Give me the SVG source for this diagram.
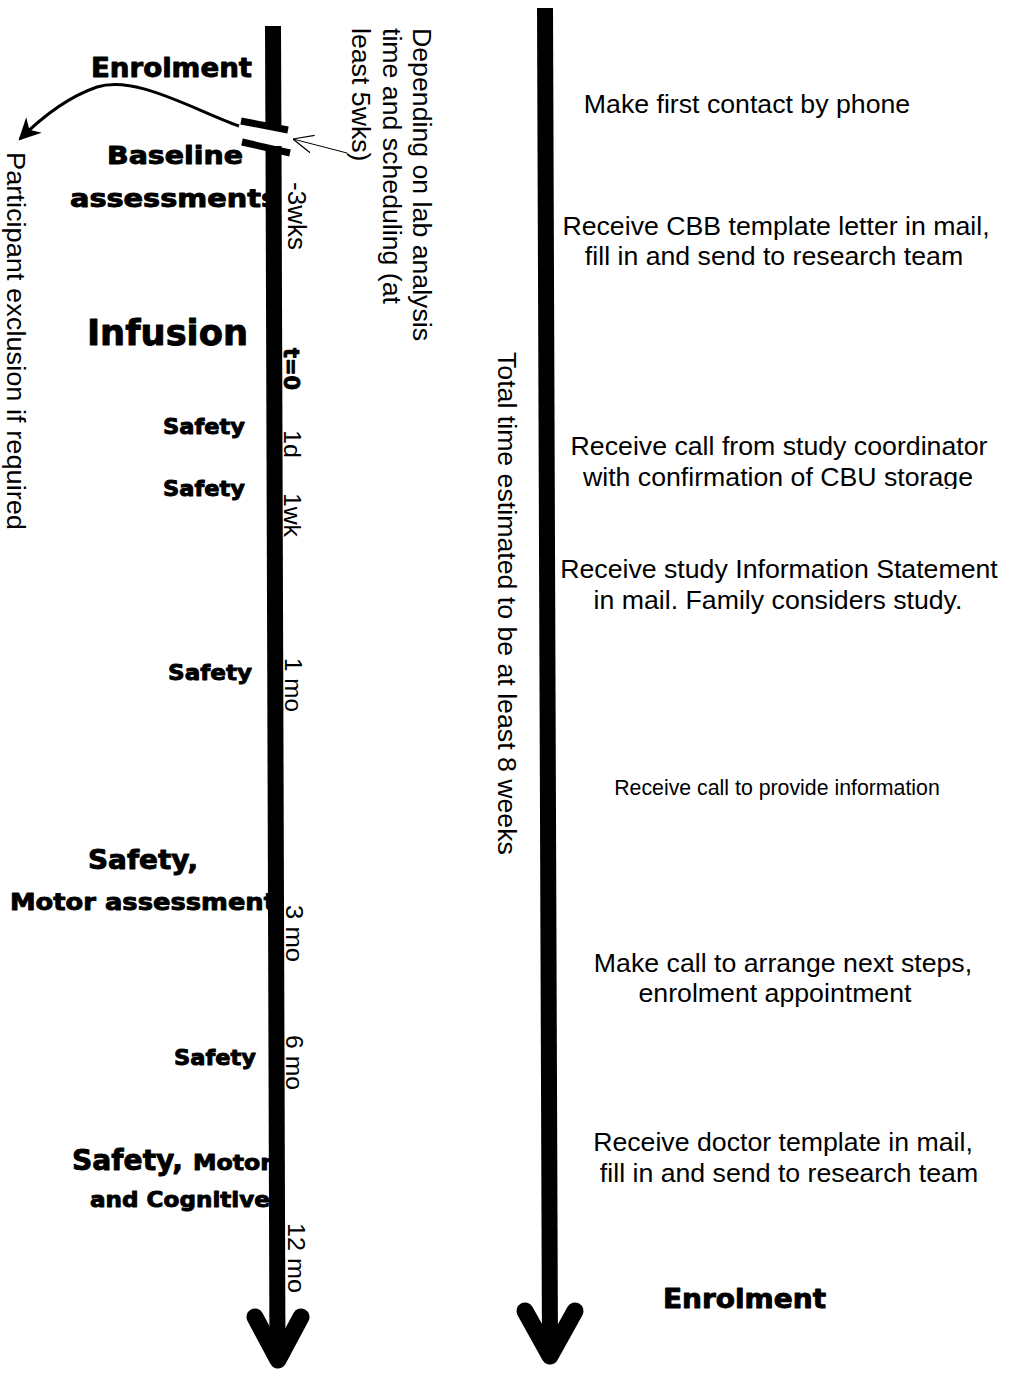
<svg xmlns="http://www.w3.org/2000/svg" width="1010" height="1377" viewBox="0 0 1010 1377">
<style>
.b{font-family:"DejaVu Sans","Liberation Sans",Arial,sans-serif;font-weight:bold;fill:#000;stroke:#000;stroke-width:0.9px;stroke-linejoin:round}
.r{font-family:"Liberation Sans",Arial,sans-serif;fill:#000;font-size:26.7px}
.s24{font-size:24px}
.s21{font-size:21.3px}
.m{text-anchor:middle}
.axis{stroke:#000;stroke-width:16;fill:none}
.head{stroke:#000;stroke-width:17;fill:none;stroke-linecap:round;stroke-linejoin:round}
</style>
<defs>
<marker id="curveHead" viewBox="0 0 10 10" refX="9" refY="5" markerWidth="22" markerHeight="22" markerUnits="userSpaceOnUse" orient="auto">
<path d="M0,0 L10,5 L0,10 L3,5 z" fill="#000"/>
</marker>
<marker id="openHead" viewBox="0 0 10 10" refX="10" refY="5" markerWidth="20" markerHeight="20" markerUnits="userSpaceOnUse" orient="auto">
<path d="M0,0.5 L10,5 L0,9.5" fill="none" stroke="#000" stroke-width="0.6"/>
</marker>
<clipPath id="clipCBU"><rect x="550" y="400" width="460" height="89"/></clipPath>
</defs>
<rect width="1010" height="1377" fill="#fff"/>

<g id="left-labels">
<g id="enrolment-left"><text class="b" x="91" y="77" font-size="26" textLength="161" lengthAdjust="spacingAndGlyphs">Enrolment</text></g>
<g id="baseline"><text class="b" x="107" y="164" font-size="24" textLength="136" lengthAdjust="spacingAndGlyphs">Baseline</text>
<text class="b" x="70" y="207" font-size="24" textLength="208" lengthAdjust="spacingAndGlyphs">assessments</text></g>
<g id="infusion"><text class="b" x="87" y="345" font-size="35" textLength="161" lengthAdjust="spacingAndGlyphs">Infusion</text></g>
<g id="safety-1d"><text class="b" x="163" y="434" font-size="22" textLength="82" lengthAdjust="spacingAndGlyphs">Safety</text></g>
<g id="safety-1wk"><text class="b" x="163" y="496" font-size="22" textLength="82" lengthAdjust="spacingAndGlyphs">Safety</text></g>
<g id="safety-1mo"><text class="b" x="168" y="680" font-size="22" textLength="84" lengthAdjust="spacingAndGlyphs">Safety</text></g>
<g id="safety-3mo"><text class="b" x="88" y="869" font-size="26" textLength="110" lengthAdjust="spacingAndGlyphs">Safety,</text>
<text class="b" x="10" y="910" font-size="23" textLength="266" lengthAdjust="spacingAndGlyphs">Motor assessment</text></g>
<g id="safety-6mo"><text class="b" x="174" y="1065" font-size="22" textLength="82" lengthAdjust="spacingAndGlyphs">Safety</text></g>
<g id="safety-12mo"><text class="b" x="72" y="1170" font-size="29" textLength="111" lengthAdjust="spacingAndGlyphs">Safety,</text>
<text class="b" x="193" y="1170" font-size="21" textLength="79" lengthAdjust="spacingAndGlyphs">Motor</text>
<text class="b" x="90" y="1207" font-size="21" textLength="180" lengthAdjust="spacingAndGlyphs">and Cognitive</text></g>
</g>

<g id="connectors">
<line class="axis" x1="273" y1="26" x2="273.4" y2="126"/>
<line class="axis" x1="273.5" y1="146" x2="277.5" y2="1362"/>
<polyline class="head" points="255,1317 278,1360 301,1317"/>
<line class="axis" x1="545" y1="8" x2="550" y2="1355"/>
<polyline class="head" points="525,1311 550,1356 575,1311"/>
<line x1="241" y1="121" x2="288" y2="130" stroke="#000" stroke-width="7"/>
<line x1="242" y1="142" x2="290" y2="153" stroke="#000" stroke-width="7"/>
<path d="M239,126 C190,108 135,75 97,87 C68,97 42,117 20,139" fill="none" stroke="#000" stroke-width="3" marker-end="url(#curveHead)"/>
<line x1="347" y1="153" x2="293" y2="139" stroke="#000" stroke-width="1" marker-end="url(#openHead)"/>
</g>

<g id="time-labels">
<text class="r" transform="translate(288,182) rotate(90)" textLength="68" lengthAdjust="spacingAndGlyphs">-3wks</text>
<text class="b" transform="translate(284,348) rotate(90)" font-size="22" textLength="42" lengthAdjust="spacingAndGlyphs">t=0</text>
<text class="r s24" transform="translate(284,430) rotate(90)" textLength="28" lengthAdjust="spacingAndGlyphs">1d</text>
<text class="r s24" transform="translate(284,493) rotate(90)" textLength="44" lengthAdjust="spacingAndGlyphs">1wk</text>
<text class="r s24" transform="translate(285,658) rotate(90)" textLength="54" lengthAdjust="spacingAndGlyphs">1 mo</text>
<text class="r s24" transform="translate(286,905) rotate(90)" textLength="57" lengthAdjust="spacingAndGlyphs">3 mo</text>
<text class="r s24" transform="translate(286,1035) rotate(90)" textLength="55" lengthAdjust="spacingAndGlyphs">6 mo</text>
<text class="r s24" transform="translate(288,1223) rotate(90)" textLength="70" lengthAdjust="spacingAndGlyphs">12 mo</text>
</g>

<g id="exclusion"><text class="r" transform="translate(7,152) rotate(90)" textLength="378" lengthAdjust="spacingAndGlyphs">Participant exclusion if required</text></g>

<g id="depending-note">
<text class="r" transform="translate(413,28) rotate(90)">Depending on lab analysis</text>
<text class="r" transform="translate(383,28) rotate(90)">time and scheduling (at</text>
<text class="r" transform="translate(352,28) rotate(90)">least 5wks)</text>
</g>

<g id="total-time"><text class="r" transform="translate(498,352) rotate(90)">Total time estimated to be at least 8 weeks</text></g>

<g id="right-steps">
<g id="step1"><text class="r m" x="747" y="113">Make first contact by phone</text></g>
<g id="step2"><text class="r m" x="776" y="235">Receive CBB template letter in mail,</text>
<text class="r m" x="774" y="265">fill in and send to research team</text></g>
<g id="step3" clip-path="url(#clipCBU)"><text class="r m" x="779" y="455">Receive call from study coordinator</text>
<text class="r m" x="778" y="486">with confirmation of CBU storage</text></g>
<g id="step4"><text class="r m" x="779" y="578">Receive study Information Statement</text>
<text class="r m" x="778" y="609">in mail. Family considers study.</text></g>
<g id="step5"><text class="r m s21" x="777" y="795">Receive call to provide information</text></g>
<g id="step6"><text class="r m" x="783" y="972">Make call to arrange next steps,</text>
<text class="r m" x="775" y="1002">enrolment appointment</text></g>
<g id="step7"><text class="r m" x="783" y="1151">Receive doctor template in mail,</text>
<text class="r m" x="789" y="1182">fill in and send to research team</text></g>
<g id="enrolment-right"><text class="b" x="663" y="1308" font-size="26" textLength="163" lengthAdjust="spacingAndGlyphs">Enrolment</text></g>
</g>
</svg>
